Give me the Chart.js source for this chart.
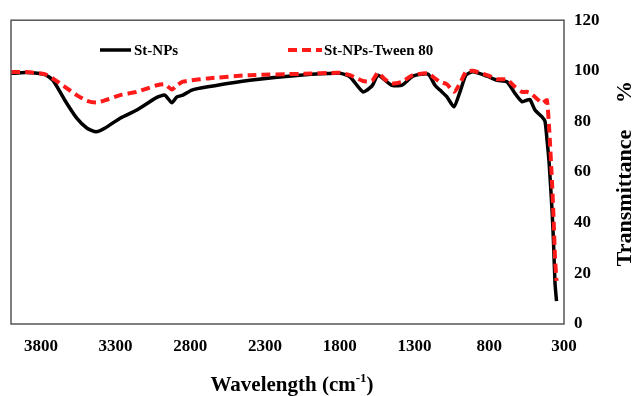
<!DOCTYPE html>
<html>
<head>
<meta charset="utf-8">
<script src="https://cdn.jsdelivr.net/npm/chart.js@4.4.1/dist/chart.umd.min.js"></script>
<style>
  html, body { margin: 0; padding: 0; background: #fff; }
  #wrap { width: 632px; height: 396px; }
</style>
</head>
<body>
<div id="wrap"><canvas id="ftir"></canvas></div>
<script>
// FTIR spectra
const wavenumbers = [4000, 3900, 3774, 3720, 3640, 3560, 3493, 3430, 3370, 3270, 3158, 3024, 2971, 2924, 2890, 2850, 2790, 2683, 2402, 2067,
  1799, 1732, 1645, 1585, 1545, 1498, 1451, 1384, 1311, 1210, 1163, 1130, 1083, 1036, 996, 956, 909, 815, 748, 682,
  628, 581, 548, 528, 494, 447, 427, 414, 400, 380, 370, 360, 350];

const stNPs = [99, 99.3, 98.5, 96.3, 88.4, 81.3, 77.4, 75.9, 77.4, 81.3, 84.5, 89.5, 90.4, 87.4, 89.7, 90.4, 92.4, 93.7, 96.3, 98.3,
  99, 97.6, 91.7, 94, 98.3, 96.3, 94.3, 94.3, 97.9, 98.7, 94.3, 92.4, 89.7, 85.8, 91.7, 98.3, 99.6, 97.9, 96.3, 95.7,
  91.1, 87.8, 88.4, 88.7, 84.5, 81.8, 80, 73, 64, 45, 32, 16, 9];

const stNPsTween = [99.5, 99.5, 98.7, 97, 93.7, 90.4, 88.2, 87.5, 88.4, 90.4, 91.7, 94.3, 94.7, 92.6, 94.3, 95.7, 96.3, 97, 98.3, 98.8,
  99.2, 98.3, 96, 96, 99.2, 96.6, 95, 95.7, 98.3, 99, 97, 95.7, 94.7, 91.7, 95, 99.6, 100, 98.3, 96.7, 96.6,
  93.7, 91.7, 91.7, 91.3, 89.7, 87.2, 88, 88.4, 78, 56, 42, 26, 17];

const xTicks = [3800, 3300, 2800, 2300, 1800, 1300, 800, 300];
const seriesNames = ["St-NPs", "St-NPs-Tween 80"];

const SERIF = '"Liberation Serif", "Times New Roman", serif';

const toPoints = (ys) => wavenumbers.map((x, i) => ({ x, y: ys[i] }));

// frame, legend and axis titles (superscript + bottom-to-top title need hand drawing)
const decor = {
  id: "decor",
  afterDraw(chart) {
    const { ctx, chartArea: a } = chart;
    ctx.save();
    ctx.strokeStyle = "#555";
    ctx.lineWidth = 1.5;
    ctx.strokeRect(a.left, a.top, a.right - a.left, a.bottom - a.top);

    // legend
    const items = [
      { x0: 100, x1: 131, tx: 134 },
      { x0: 288, x1: 322, tx: 324 },
    ];
    ctx.font = "bold 15px " + SERIF;
    ctx.textBaseline = "middle";
    ctx.fillStyle = "#000";
    chart.data.datasets.forEach((ds, i) => {
      const it = items[i];
      ctx.beginPath();
      ctx.setLineDash(ds.borderDash || []);
      ctx.strokeStyle = ds.borderColor;
      ctx.lineWidth = ds.borderWidth;
      ctx.moveTo(it.x0, 50);
      ctx.lineTo(it.x1, 50);
      ctx.stroke();
      ctx.fillText(ds.label, it.tx, 51);
    });
    ctx.setLineDash([]);

    // x title with superscript
    ctx.font = "bold 21px " + SERIF;
    ctx.textBaseline = "alphabetic";
    const main = "Wavelength (cm";
    const sup = "-1";
    const close = ")";
    const wMain = ctx.measureText(main).width;
    const wClose = ctx.measureText(close).width;
    ctx.font = "bold 13px " + SERIF;
    const wSup = ctx.measureText(sup).width;
    const total = wMain + wSup + wClose;
    let x = 292 - total / 2;
    const yb = 391;
    ctx.font = "bold 21px " + SERIF;
    ctx.fillText(main, x, yb);
    ctx.font = "bold 13px " + SERIF;
    ctx.fillText(sup, x + wMain, yb - 9);
    ctx.font = "bold 21px " + SERIF;
    ctx.fillText(close, x + wMain + wSup, yb);

    // y title, reading bottom to top
    ctx.translate(631, 0);
    ctx.rotate(-Math.PI / 2);
    ctx.font = "bold 22px " + SERIF;
    ctx.textAlign = "center";
    ctx.fillText("Transmittance", -198, 0);
    ctx.fillText("%", -92, 0);
    ctx.restore();
  },
};

new Chart(document.getElementById("ftir"), {
  type: "line",
  data: {
    datasets: [
      {
        label: seriesNames[0],
        data: toPoints(stNPs),
        borderColor: "#000",
        borderWidth: 3.5,
        pointRadius: 0,
        tension: 0.2,
        order: 2,
      },
      {
        label: seriesNames[1],
        data: toPoints(stNPsTween),
        borderColor: "#ff1a1a",
        borderWidth: 4,
        borderDash: [9, 5],
        pointRadius: 0,
        tension: 0.2,
        order: 1,
      },
    ],
  },
  options: {
    responsive: true,
    maintainAspectRatio: false,
    animation: false,
    layout: { padding: { top: 20, left: 11, right: 0, bottom: 0 } },
    plugins: { legend: { display: false }, tooltip: { enabled: false } },
    scales: {
      x: {
        type: "linear",
        reverse: true,
        min: 300,
        max: 4000,
        afterBuildTicks: (s) => { s.ticks = xTicks.map((v) => ({ value: v })); },
        afterFit: (s) => { s.height = 72; },
        grid: { display: false, drawTicks: false },
        border: { display: false },
        ticks: {
          color: "#000",
          padding: 12,
          maxRotation: 0,
          autoSkip: false,
          callback: (v) => String(v),
          font: { family: SERIF, size: 17, weight: "bold" },
        },
      },
      y: {
        position: "right",
        min: 0,
        max: 120,
        afterFit: (s) => { s.width = 68; },
        grid: { display: false, drawTicks: false },
        border: { display: false },
        ticks: {
          stepSize: 20,
          color: "#000",
          padding: 10,
          callback: (v) => String(v),
          font: { family: SERIF, size: 17, weight: "bold" },
        },
      },
    },
  },
  plugins: [decor],
});
</script>
</body>
</html>
